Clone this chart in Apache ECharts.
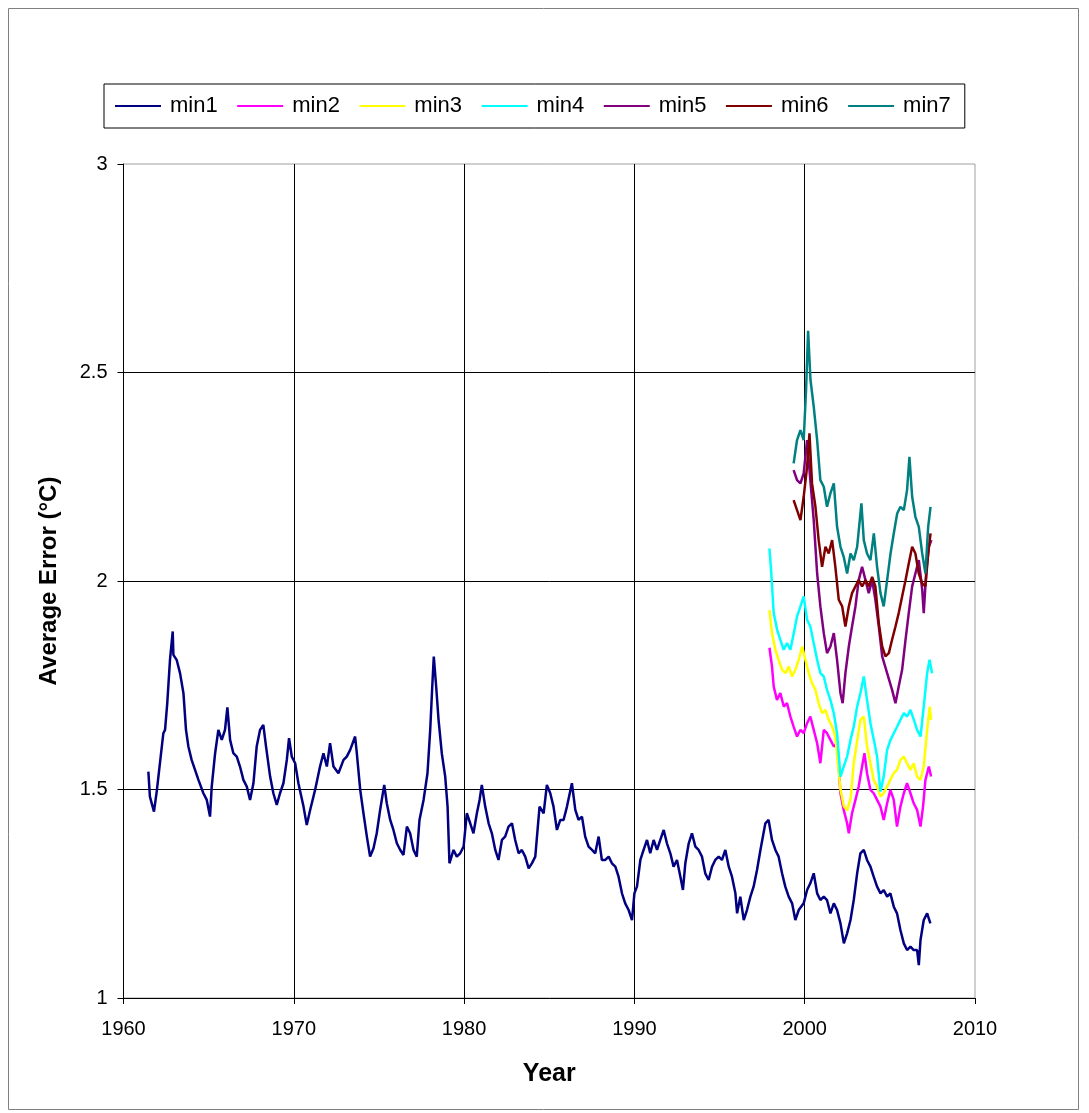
<!DOCTYPE html>
<html>
<head>
<meta charset="utf-8">
<script src="https://cdn.jsdelivr.net/npm/echarts@6/dist/echarts.min.js"></script>
<style>
html,body{margin:0;padding:0;background:#fff;}
#c{width:1089px;height:1113px;}
</style>
</head>
<body>
<div id="c"></div>
<script>
var seriesNames = ['min1','min2','min3','min4','min5','min6','min7'];
var seriesColors = ['#000080','#FF00FF','#FFFF00','#00FFFF','#800080','#800000','#008080'];
var xTicks = [1960,1970,1980,1990,2000,2010];
var yTicks = [1,1.5,2,2.5,3];

var min1 = [
[1961.46,1.543],[1961.55,1.483],[1961.79,1.447],[1961.95,1.495],[1962.14,1.563],[1962.34,1.635],[1962.44,1.643],
[1962.57,1.707],[1962.73,1.811],[1962.89,1.879],[1962.93,1.823],[1963.12,1.811],[1963.32,1.779],[1963.52,1.731],
[1963.67,1.643],[1963.81,1.603],[1964.00,1.571],[1964.20,1.547],[1964.40,1.523],[1964.69,1.491],[1964.89,1.475],
[1965.08,1.435],[1965.18,1.507],[1965.38,1.587],[1965.57,1.643],[1965.77,1.619],[1965.96,1.643],[1966.10,1.697],
[1966.26,1.619],[1966.45,1.587],[1966.65,1.579],[1966.84,1.555],[1967.04,1.523],[1967.24,1.507],[1967.43,1.475],
[1967.63,1.515],[1967.82,1.603],[1968.02,1.643],[1968.21,1.655],[1968.37,1.603],[1968.61,1.531],[1968.80,1.491],
[1969.00,1.463],[1969.19,1.491],[1969.39,1.515],[1969.59,1.571],[1969.72,1.623],[1969.88,1.579],[1970.08,1.563],
[1970.27,1.515],[1970.57,1.459],[1970.76,1.415],[1970.96,1.451],[1971.25,1.499],[1971.54,1.555],[1971.74,1.587],
[1971.94,1.555],[1972.13,1.611],[1972.33,1.555],[1972.62,1.539],[1972.92,1.571],[1973.11,1.579],[1973.31,1.595],
[1973.60,1.627],[1973.70,1.587],[1973.90,1.499],[1974.09,1.443],[1974.29,1.387],[1974.48,1.339],[1974.68,1.359],
[1974.87,1.395],[1975.07,1.451],[1975.31,1.511],[1975.46,1.467],[1975.66,1.427],[1975.85,1.403],[1976.05,1.371],
[1976.25,1.355],[1976.44,1.343],[1976.64,1.411],[1976.83,1.395],[1977.03,1.355],[1977.22,1.339],[1977.38,1.427],
[1977.62,1.475],[1977.85,1.539],[1978.01,1.643],[1978.13,1.747],[1978.22,1.819],[1978.36,1.747],[1978.50,1.667],
[1978.69,1.587],[1978.89,1.531],[1979.03,1.459],[1979.14,1.323],[1979.38,1.355],[1979.57,1.339],[1979.77,1.347],
[1979.97,1.363],[1980.16,1.443],[1980.36,1.419],[1980.55,1.395],[1980.75,1.443],[1980.91,1.475],[1981.04,1.511],
[1981.24,1.459],[1981.44,1.419],[1981.63,1.395],[1981.83,1.355],[1982.02,1.331],[1982.22,1.379],[1982.41,1.387],
[1982.61,1.411],[1982.81,1.419],[1983.00,1.379],[1983.20,1.347],[1983.39,1.355],[1983.59,1.339],[1983.79,1.311],
[1983.98,1.323],[1984.18,1.339],[1984.43,1.459],[1984.67,1.443],[1984.86,1.511],[1985.06,1.491],[1985.25,1.459],
[1985.45,1.403],[1985.65,1.427],[1985.84,1.427],[1986.04,1.459],[1986.33,1.515],[1986.53,1.451],[1986.72,1.427],
[1986.92,1.435],[1987.11,1.387],[1987.31,1.363],[1987.51,1.355],[1987.70,1.347],[1987.90,1.387],[1988.09,1.331],
[1988.29,1.331],[1988.49,1.339],[1988.68,1.323],[1988.88,1.315],[1989.07,1.291],[1989.27,1.251],[1989.46,1.227],
[1989.66,1.211],[1989.86,1.187],[1990.00,1.251],[1990.15,1.267],[1990.35,1.331],[1990.54,1.355],[1990.74,1.379],
[1990.93,1.347],[1991.13,1.379],[1991.33,1.355],[1991.52,1.379],[1991.72,1.403],[1991.91,1.371],[1992.11,1.347],
[1992.30,1.315],[1992.50,1.331],[1992.70,1.291],[1992.85,1.259],[1992.99,1.323],[1993.19,1.371],[1993.38,1.395],
[1993.58,1.363],[1993.77,1.355],[1993.97,1.339],[1994.16,1.299],[1994.36,1.283],[1994.56,1.315],[1994.75,1.331],
[1994.95,1.339],[1995.14,1.331],[1995.34,1.355],[1995.54,1.315],[1995.73,1.291],[1995.93,1.251],[1996.03,1.203],
[1996.22,1.243],[1996.42,1.187],[1996.61,1.211],[1996.81,1.243],[1997.00,1.267],[1997.20,1.307],[1997.40,1.355],
[1997.69,1.419],[1997.88,1.427],[1998.08,1.379],[1998.28,1.355],[1998.47,1.339],[1998.67,1.299],[1998.86,1.267],
[1999.06,1.243],[1999.26,1.227],[1999.45,1.187],[1999.65,1.211],[1999.94,1.227],[2000.14,1.259],[2000.33,1.275],
[2000.53,1.299],[2000.73,1.251],[2000.92,1.235],[2001.12,1.243],[2001.31,1.235],[2001.51,1.203],[2001.71,1.227],
[2001.90,1.211],[2002.10,1.179],[2002.30,1.131],[2002.49,1.155],[2002.69,1.187],[2002.88,1.235],[2003.08,1.299],
[2003.27,1.347],[2003.47,1.355],[2003.66,1.331],[2003.86,1.315],[2004.05,1.291],[2004.25,1.267],[2004.45,1.251],
[2004.64,1.259],[2004.84,1.243],[2005.03,1.251],[2005.23,1.219],[2005.42,1.203],[2005.62,1.163],[2005.82,1.131],
[2006.01,1.115],[2006.21,1.123],[2006.40,1.115],[2006.60,1.115],[2006.70,1.079],[2006.80,1.139],[2006.99,1.187],
[2007.19,1.203],[2007.38,1.179]
];

var min2 = [
[1997.93,1.84],[1997.98,1.843],[1998.08,1.795],[1998.18,1.747],[1998.37,1.715],[1998.57,1.731],[1998.77,1.699],
[1998.96,1.707],[1999.16,1.675],[1999.35,1.651],[1999.55,1.627],[1999.75,1.643],[1999.94,1.635],[2000.14,1.659],
[2000.33,1.675],[2000.53,1.643],[2000.73,1.611],[2000.92,1.563],[2001.12,1.643],[2001.31,1.635],[2001.51,1.619],
[2001.71,1.603],[2001.90,1.611],[2002.10,1.491],[2002.29,1.451],[2002.49,1.419],[2002.59,1.395],[2002.78,1.443],
[2002.98,1.475],[2003.17,1.507],[2003.37,1.555],[2003.51,1.587],[2003.66,1.539],[2003.86,1.499],[2004.05,1.491],
[2004.25,1.475],[2004.45,1.459],[2004.64,1.427],[2004.84,1.467],[2005.03,1.499],[2005.23,1.475],[2005.42,1.411],
[2005.62,1.459],[2005.82,1.491],[2006.01,1.515],[2006.21,1.491],[2006.40,1.467],[2006.60,1.451],[2006.80,1.411],
[2006.95,1.459],[2007.09,1.523],[2007.29,1.555],[2007.42,1.531]
];

var min3 = [
[1997.93,1.93],[1998.08,1.875],[1998.28,1.835],[1998.47,1.811],[1998.67,1.787],[1998.87,1.779],[1999.06,1.795],
[1999.26,1.771],[1999.45,1.787],[1999.65,1.811],[1999.85,1.843],[2000.04,1.811],[2000.24,1.779],[2000.43,1.755],
[2000.63,1.739],[2000.82,1.707],[2001.02,1.683],[2001.22,1.691],[2001.41,1.667],[2001.61,1.651],[2001.80,1.627],
[2002.10,1.50],[2002.30,1.46],[2002.50,1.45],[2002.70,1.48],[2002.88,1.563],[2003.27,1.667],[2003.47,1.675],
[2003.66,1.603],[2003.86,1.563],[2004.05,1.523],[2004.25,1.507],[2004.45,1.483],[2004.64,1.491],[2004.84,1.507],
[2005.03,1.523],[2005.23,1.539],[2005.42,1.547],[2005.62,1.571],[2005.82,1.579],[2006.01,1.563],[2006.21,1.547],
[2006.40,1.563],[2006.60,1.531],[2006.80,1.523],[2006.99,1.555],[2007.19,1.643],[2007.34,1.699],[2007.42,1.667]
];

var min4 = [
[1997.93,2.078],[1998.04,2.018],[1998.18,1.923],[1998.38,1.883],[1998.57,1.859],[1998.77,1.835],[1998.96,1.851],
[1999.16,1.835],[1999.36,1.875],[1999.55,1.915],[1999.75,1.939],[1999.94,1.963],[2000.14,1.907],[2000.33,1.891],
[2000.53,1.851],[2000.73,1.811],[2000.92,1.779],[2001.12,1.771],[2001.31,1.739],[2001.51,1.715],[2001.71,1.683],
[2001.90,1.635],[2002.10,1.531],[2002.29,1.555],[2002.49,1.579],[2002.69,1.619],[2002.88,1.651],[2003.08,1.699],
[2003.27,1.731],[2003.47,1.771],[2003.66,1.715],[2003.86,1.659],[2004.06,1.619],[2004.25,1.579],[2004.45,1.495],
[2004.64,1.531],[2004.84,1.595],[2005.04,1.619],[2005.23,1.635],[2005.43,1.651],[2005.62,1.667],[2005.82,1.683],
[2006.01,1.675],[2006.21,1.691],[2006.41,1.667],[2006.60,1.643],[2006.80,1.627],[2006.99,1.699],[2007.19,1.779],
[2007.33,1.811],[2007.48,1.779]
];

var min5 = [
[1999.35,2.266],[1999.55,2.242],[1999.75,2.234],[1999.94,2.258],[2000.14,2.338],[2000.33,2.242],[2000.53,2.146],
[2000.73,2.018],[2000.92,1.939],[2001.12,1.875],[2001.31,1.827],[2001.51,1.843],[2001.71,1.875],[2001.90,1.811],
[2002.10,1.731],[2002.23,1.707],[2002.39,1.779],[2002.59,1.843],[2002.78,1.891],[2002.98,1.939],[2003.17,2.002],
[2003.37,2.034],[2003.57,2.002],[2003.76,1.971],[2003.96,2.002],[2004.15,1.955],[2004.35,1.891],[2004.55,1.819],
[2004.84,1.779],[2005.13,1.739],[2005.33,1.707],[2005.52,1.747],[2005.72,1.787],[2005.92,1.859],[2006.11,1.923],
[2006.31,1.987],[2006.50,2.018],[2006.70,2.050],[2006.90,1.979],[2006.99,1.923],[2007.13,2.018],[2007.29,2.082],
[2007.44,2.098]
];

var min6 = [
[1999.35,2.194],[1999.55,2.170],[1999.75,2.146],[1999.94,2.202],[2000.14,2.274],[2000.28,2.354],[2000.43,2.234],
[2000.63,2.178],[2000.82,2.098],[2001.02,2.034],[2001.22,2.082],[2001.41,2.066],[2001.61,2.098],[2001.80,2.034],
[2002.00,1.955],[2002.20,1.939],[2002.39,1.891],[2002.59,1.939],[2002.78,1.971],[2002.98,1.987],[2003.17,2.002],
[2003.37,1.987],[2003.57,2.002],[2003.76,1.987],[2003.96,2.010],[2004.15,1.987],[2004.35,1.899],[2004.55,1.843],
[2004.74,1.819],[2004.94,1.827],[2005.13,1.859],[2005.33,1.891],[2005.52,1.923],[2005.72,1.963],[2005.92,2.002],
[2006.11,2.042],[2006.31,2.082],[2006.50,2.066],[2006.70,2.018],[2006.90,1.994],[2007.09,1.987],[2007.25,2.066],
[2007.39,2.114]
];

var min7 = [
[1999.35,2.282],[1999.55,2.338],[1999.75,2.362],[1999.94,2.338],[2000.08,2.458],[2000.20,2.60],[2000.34,2.482],
[2000.53,2.418],[2000.73,2.338],[2000.92,2.242],[2001.12,2.226],[2001.31,2.178],[2001.51,2.210],[2001.71,2.234],
[2001.90,2.130],[2002.10,2.082],[2002.29,2.058],[2002.49,2.018],[2002.69,2.066],[2002.88,2.050],[2003.08,2.082],
[2003.33,2.186],[2003.47,2.098],[2003.66,2.066],[2003.86,2.050],[2004.06,2.114],[2004.25,2.034],[2004.45,1.971],
[2004.64,1.939],[2004.84,2.002],[2005.04,2.066],[2005.23,2.114],[2005.43,2.162],[2005.62,2.178],[2005.82,2.170],
[2006.01,2.218],[2006.15,2.298],[2006.31,2.202],[2006.50,2.154],[2006.70,2.130],[2006.90,2.066],[2007.09,2.018],
[2007.25,2.130],[2007.39,2.178]
];

var allData = [min1, min2, min3, min4, min5, min6, min7];

var chart = echarts.init(document.getElementById('c'), null, {renderer: 'canvas'});
var FONT = 'Liberation Sans, Arial, sans-serif';

var series = seriesNames.map(function (n, i) {
  return {
    name: n,
    type: 'line',
    data: allData[i],
    showSymbol: false,
    symbol: 'none',
    animation: false,
    lineStyle: {color: seriesColors[i], width: 2.5},
    itemStyle: {color: seriesColors[i]},
    z: 3 + i
  };
});

chart.setOption({
  animation: false,
  backgroundColor: '#fff',
  graphic: [{
    type: 'rect',
    shape: {x: 8.5, y: 8.5, width: 1070, height: 1101},
    style: {fill: 'none', stroke: '#808080', lineWidth: 1},
    silent: true
  }],
  grid: {
    left: 123.5, right: 114, top: 164, bottom: 115,
    show: true, borderColor: '#a0a0a0', borderWidth: 1, backgroundColor: '#fff'
  },
  legend: {
    data: seriesNames,
    left: 104, top: 84,
    padding: [11, 14, 11, 11],
    itemGap: 19.5,
    itemWidth: 46, itemHeight: 2,
    icon: 'rect',
    borderColor: '#000', borderWidth: 1,
    textStyle: {fontFamily: FONT, fontSize: 22, color: '#000', padding: [0, 0, 0, 4]}
  },
  xAxis: {
    type: 'value', min: xTicks[0], max: xTicks[xTicks.length - 1], interval: 10,
    name: 'Year', nameLocation: 'middle', nameGap: 64,
    nameTextStyle: {fontFamily: FONT, fontSize: 25, fontWeight: 'bold', color: '#000'},
    axisLine: {show: true, lineStyle: {color: '#000', width: 1}},
    axisTick: {show: true, inside: false, length: 6, lineStyle: {color: '#000'}},
    axisLabel: {fontFamily: FONT, fontSize: 20, color: '#000', margin: 21,
      formatter: function (v) { return String(v); }},
    splitLine: {show: true, showMinLine: false, showMaxLine: false, lineStyle: {color: '#000', width: 1}}
  },
  yAxis: {
    type: 'value', min: yTicks[0], max: yTicks[yTicks.length - 1], interval: 0.5,
    name: 'Average Error (°C)', nameLocation: 'middle', nameGap: 62, nameRotate: 90,
    nameTextStyle: {fontFamily: FONT, fontSize: 24, fontWeight: 'bold', color: '#000'},
    axisLine: {show: true, lineStyle: {color: '#000', width: 1}},
    axisTick: {show: true, inside: false, length: 6, lineStyle: {color: '#000'}},
    axisLabel: {fontFamily: FONT, fontSize: 20, color: '#000', margin: 16,
      formatter: function (v) { return String(v); }},
    splitLine: {show: true, showMinLine: false, showMaxLine: false, lineStyle: {color: '#000', width: 1}}
  },
  series: series
});
</script>
</body>
</html>
